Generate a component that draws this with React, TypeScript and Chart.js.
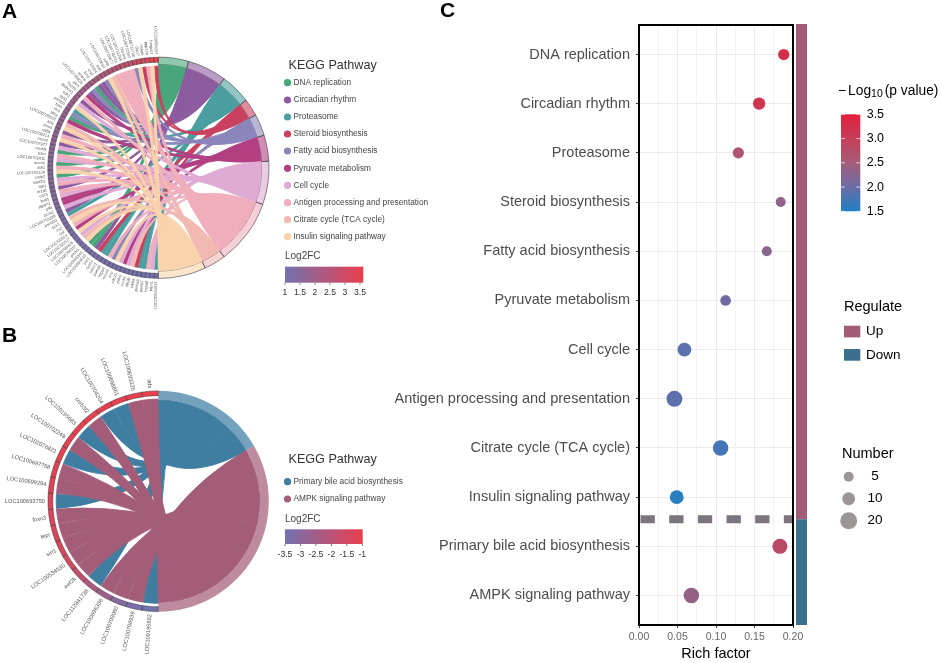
import React, { useEffect, useRef } from "react";
import { Chart, registerables } from "chart.js";

Chart.register(...registerables);

const FONT = '"Liberation Sans", Arial, sans-serif';

// ---------- Panel A ----------
const pathwaysA = ["DNA replication", "Circadian rhythm", "Proteasome", "Steroid biosynthesis", "Fatty acid biosynthesis", "Pyruvate metabolism", "Cell cycle", "Antigen processing and presentation", "Citrate cycle (TCA cycle)", "Insulin signaling pathway"];
const pathwayColorsA = ["#48a57a", "#8c5a9e", "#4a9e9f", "#c9405f", "#8a85bb", "#b23f82", "#dfaad4", "#f0aebc", "#f2b8b2", "#f8d3ac"];
const pathwayCountsA = [7, 9, 7, 4, 5, 6, 10, 15, 5, 11];
const genesA = ["LOC100534521", "ptpn1", "hspa8", "psmb7", "psma3", "sqlea", "idh3b", "ccnb1", "pdhb", "cdc20", "insr", "elovl6", "hspa4", "psmd2", "psmc1", "cyp51", "per1", "LOC100693210", "LOC100693344", "pik3r1", "LOC100700112", "LOC100700318", "LOC100700527", "LOC100700913", "ctsl", "irs2", "pck1", "psmd11", "LOC100701288", "ccna2", "pfkl", "pgam1", "bub1", "cd74", "nr1d1", "tap1", "mad2l1", "pole2", "LOC100702128", "ifi30", "mcm6", "LOC100702411", "b2m", "mcm5", "LOC100707977", "mcm2", "LOC100708214", "cd8a", "rbm3", "acly", "LOC100709163", "ldha", "rfc4", "fasn", "psmb5", "gys1", "cdk1", "bhlhe41", "hsp70", "pkm", "LOC100709826", "acaca", "fen1", "cry2", "LOC100710224", "scd", "LOC100710533", "sdhb", "LOC100710877", "LOC100711031", "LOC100711264", "hla-dra", "LOC100711592", "LOC100711748", "dhcr7", "hspa5", "ppp1cb", "hmgcs1", "LOC100690207"];
const geneFCA = [1.0, 1.01, 1.02, 1.03, 1.04, 1.05, 1.06, 1.07, 1.08, 1.09, 1.1, 1.11, 1.12, 1.13, 1.14, 1.15, 1.16, 1.17, 1.18, 1.19, 1.2, 1.22, 1.23, 1.25, 1.26, 1.27, 1.29, 1.3, 1.32, 1.33, 1.35, 1.37, 1.38, 1.4, 1.42, 1.44, 1.46, 1.48, 1.5, 1.52, 1.54, 1.56, 1.58, 1.6, 1.62, 1.64, 1.66, 1.68, 1.7, 1.72, 1.75, 1.78, 1.8, 1.83, 1.86, 1.89, 1.92, 1.95, 1.98, 2.02, 2.05, 2.1, 2.15, 2.2, 2.25, 2.3, 2.36, 2.42, 2.48, 2.55, 2.62, 2.7, 2.8, 2.9, 3.0, 3.1, 3.25, 3.4, 3.5];
// pathway index of each gene, in ring order (clockwise, starting at six o'clock)
const genePathA = [2, 6, 7, 2, 2, 3, 8, 6, 5, 6, 9, 4, 7, 2, 2, 3, 1, 0, 0, 9, 8, 6, 9, 5, 7, 9, 8, 2, 1, 6, 5, 5, 6, 7, 1, 7, 6, 0, 9, 7, 0, 6, 7, 0, 6, 1, 9, 7, 1, 9, 8, 5, 0, 4, 2, 9, 6, 1, 7, 5, 1, 4, 0, 1, 1, 4, 9, 8, 7, 7, 7, 7, 7, 4, 9, 3, 7, 9, 3];
const fcTicksA = [1, 1.5, 2, 2.5, 3, 3.5];

// ---------- Panel B ----------
const pathwaysB = ["Primary bile acid biosynthesis", "AMPK signaling pathway"];
const pathwayColorsB = ["#3f7da1", "#a35d78"];
const pathwayCountsB = [7, 14];
const genesB = ["LOC109195682", "LOC100706939", "LOC100708080", "LOC100696336", "LOC112841736", "eef2k", "LOC100534530", "sirt1", "lepr", "foxo3", "LOC100693750", "LOC100699294", "LOC100697758", "LOC102076821", "LOC100702249", "LOC109195683", "creb3l2", "LOC100704204", "LOC100698861", "LOC100693325", "ads"];
const geneFCB = [-3.5, -3.4, -3.1, -2.6, -2.3, -1.8, -1.5, -1.4, -1.3, -1.3, -1.25, -1.2, -1.2, -1.15, -1.15, -1.1, -1.1, -1.05, -1.05, -1.02, -1];
const genePathB = [0, 1, 1, 1, 0, 1, 1, 1, 1, 1, 0, 1, 1, 0, 1, 0, 1, 0, 0, 1, 1];
const fcTicksB = [-3.5, -3, -2.5, -2, -1.5, -1];

// ---------- Panel C ----------
const categories = ["DNA replication", "Circadian rhythm", "Proteasome", "Steroid biosynthesis", "Fatty acid biosynthesis", "Pyruvate metabolism", "Cell cycle", "Antigen processing and presentation", "Citrate cycle (TCA cycle)", "Insulin signaling pathway", "Primary bile acid biosynthesis", "AMPK signaling pathway"];
const richFactor = [0.188, 0.156, 0.129, 0.184, 0.166, 0.1125, 0.059, 0.046, 0.106, 0.049, 0.183, 0.068];
const geneNumber = [7, 9, 7, 5, 5, 6, 12, 17, 16, 12, 15, 16];
const minusLogP = [3.25, 3.15, 2.6, 2.3, 2.25, 2.05, 1.9, 1.9, 1.75, 1.55, 2.8, 2.35];
const pTicks = [1.5, 2, 2.5, 3, 3.5];
const numberLegend = [5, 10, 20];
const regulateNames = ["Up", "Down"];
const regulateColors = ["#a25c78", "#3a708e"];
const xTickValues = [0, 0.05, 0.1, 0.15, 0.2];
const SPLIT = 10.45;

type RGB = [number, number, number];
const hex = (h: string): RGB => [parseInt(h.slice(1, 3), 16), parseInt(h.slice(3, 5), 16), parseInt(h.slice(5, 7), 16)];
const mix = (a: string, b: string, t: number) => {
  const A = hex(a), B = hex(b);
  return `rgb(${A.map((v, i) => Math.round(v + (B[i] - v) * t)).join(",")})`;
};
const alpha = (c: string, a: number) => `rgba(${hex(c).join(",")},${a})`;

const FC_LOW = "#7272b0", FC_HIGH = "#ea3f4d";
const pStops: [number, string][] = [[1.5, "#1f80c4"], [2, "#6a6ca6"], [2.5, "#a65c78"], [3.5, "#e3203a"]];
const pColor = (v: number) => {
  for (let i = 1; i < pStops.length; i++) {
    if (v <= pStops[i][0]) {
      const [a, ca] = pStops[i - 1], [b, cb] = pStops[i];
      return mix(ca, cb, (v - a) / (b - a));
    }
  }
  return pStops[pStops.length - 1][1];
};
const bubbleRadius = (n: number) => 1.5 + 1.56 * Math.sqrt(n);

const text = (ctx: CanvasRenderingContext2D, s: string, x: number, y: number, font: string, color: string, align: CanvasTextAlign = "left") => {
  ctx.font = `${font} ${FONT}`;
  ctx.fillStyle = color;
  ctx.textAlign = align;
  ctx.textBaseline = "middle";
  ctx.fillText(s, x, y);
};

type ChordCfg = {
  letter: string; letterY: number;
  names: string[]; colors: string[]; counts: number[];
  genes: string[]; fc: number[]; paths: number[];
  fcMin: number; fcMax: number; ticks: number[];
  geneInner: number; geneOuter: number; pathInner: number; ribbonR: number;
  labelFont: number; border: string; pathBorder: number; ringAlpha: number;
  titleY: number; itemYs: number[]; fcTitleY: number; barTop: number; barBottom: number; barRight: number; tickRight: number; tickLabelY: number;
};

const makeChord = (canvas: HTMLCanvasElement, cfg: ChordCfg, cx: number, cy: number, R: number) => {
  const geneColor = (v: number) => mix(FC_LOW, FC_HIGH, (v - cfg.fcMin) / (cfg.fcMax - cfg.fcMin));
  const nP = cfg.counts.length;
  const plugin = {
    id: "chord" + cfg.letter,
    afterDatasetsUpdate(chart: any) {
      chart.getDatasetMeta(0).data.forEach((arc: any, i: number) => {
        const isPath = i < nP;
        arc.innerRadius = isPath ? cfg.pathInner : cfg.geneInner;
        arc.outerRadius = isPath ? R : cfg.geneOuter;
      });
    },
    afterDatasetsDraw(chart: any) {
      const ctx: CanvasRenderingContext2D = chart.ctx;
      const arcs = chart.getDatasetMeta(0).data;
      const { x: ox, y: oy } = arcs[0];
      ctx.save();
      // ribbons, one pathway after another
      cfg.colors.forEach((col, p) => {
        const members = cfg.paths.map((q, g) => (q === p ? g : -1)).filter((g) => g >= 0);
        const pa = arcs[p];
        const step = (pa.endAngle - pa.startAngle) / members.length;
        ctx.fillStyle = col;
        ctx.strokeStyle = col;
        ctx.lineWidth = 0.9;
        ctx.lineJoin = "round";
        members.forEach((g, k) => {
          const ga = arcs[nP + g];
          const b1 = pa.startAngle + k * step, b2 = b1 + step;
          ctx.beginPath();
          ctx.arc(ox, oy, cfg.ribbonR - 0.4, ga.startAngle + 0.003, ga.endAngle - 0.003);
          ctx.quadraticCurveTo(ox, oy, ox + (cfg.pathInner - 0.4) * Math.cos(b1), oy + (cfg.pathInner - 0.4) * Math.sin(b1));
          ctx.arc(ox, oy, cfg.pathInner - 0.4, b1, b2);
          ctx.quadraticCurveTo(ox, oy, ox + (cfg.ribbonR - 0.4) * Math.cos(ga.startAngle + 0.003), oy + (cfg.ribbonR - 0.4) * Math.sin(ga.startAngle + 0.003));
          ctx.closePath();
          ctx.fill();
          ctx.stroke();
        });
      });
      // gene labels, radial
      cfg.genes.forEach((name, g) => {
        const ga = arcs[nP + g];
        const mid = (ga.startAngle + ga.endAngle) / 2;
        ctx.save();
        ctx.translate(ox + (cfg.geneOuter + 3) * Math.cos(mid), oy + (cfg.geneOuter + 3) * Math.sin(mid));
        ctx.rotate(mid - Math.PI);
        text(ctx, name, 0, 0, `${cfg.labelFont}px`, "#555555", "right");
        ctx.restore();
      });
      // panel letter
      text(ctx, cfg.letter, 2, cfg.letterY, "bold 21px", "#000000");
      // legend
      text(ctx, "KEGG Pathway", 288.5, cfg.titleY, "12.6px", "#333333");
      cfg.names.forEach((name, i) => {
        ctx.fillStyle = cfg.colors[i];
        ctx.beginPath();
        ctx.arc(287.5, cfg.itemYs[i], 3.6, 0, Math.PI * 2);
        ctx.fill();
        text(ctx, name, 293.5, cfg.itemYs[i], "8.3px", "#444444");
      });
      text(ctx, "Log2FC", 285, cfg.fcTitleY, "10px", "#444444");
      const grad = ctx.createLinearGradient(285, 0, cfg.barRight, 0);
      grad.addColorStop(0, FC_LOW);
      grad.addColorStop(1, FC_HIGH);
      ctx.fillStyle = grad;
      ctx.fillRect(285, cfg.barTop, cfg.barRight - 285, cfg.barBottom - cfg.barTop);
      cfg.ticks.forEach((v) => {
        const x = 285 + ((v - cfg.fcMin) / (cfg.fcMax - cfg.fcMin)) * (cfg.tickRight - 285);
        ctx.fillStyle = "#555555";
        ctx.fillRect(x - 0.4, cfg.barBottom, 0.8, 2);
        text(ctx, String(v), x, cfg.tickLabelY, "8.6px", "#333333", "center");
      });
      ctx.restore();
    },
  };
  return new Chart(canvas, {
    type: "doughnut",
    data: {
      labels: [...cfg.names, ...cfg.genes],
      datasets: [{
        data: [...cfg.counts, ...cfg.genes.map(() => 1)],
        backgroundColor: [...cfg.colors.map((c) => alpha(c, cfg.ringAlpha)), ...cfg.fc.map(geneColor)],
        borderColor: cfg.border,
        borderWidth: (c: any) => (c.dataIndex < nP ? cfg.pathBorder : 0.5),
      }],
    },
    options: {
      responsive: false,
      animation: false,
      cutout: "90%",
      layout: { padding: { left: cx - R, right: 941 - cx - R, top: cy - R, bottom: 663 - cy - R } },
      plugins: { legend: { display: false }, tooltip: { enabled: false } },
    },
    plugins: [plugin],
  } as any);
};

export default function App() {
  const aRef = useRef<HTMLCanvasElement>(null);
  const bRef = useRef<HTMLCanvasElement>(null);
  const cRef = useRef<HTMLCanvasElement>(null);

  useEffect(() => {
    const a = makeChord(aRef.current!, {
      letter: "A", letterY: 12,
      names: pathwaysA, colors: pathwayColorsA, counts: pathwayCountsA,
      genes: genesA, fc: geneFCA, paths: genePathA,
      fcMin: 1, fcMax: 3.5, ticks: fcTicksA,
      geneInner: 105.5, geneOuter: 110.5, pathInner: 103.3, ribbonR: 102,
      labelFont: 4, border: "#3a3a3a", pathBorder: 0.6, ringAlpha: 0.6,
      titleY: 65.5, itemYs: [82.7, 100, 117, 134, 151, 168.3, 185.3, 202.7, 219.7, 236.7],
      fcTitleY: 256.5, barTop: 266.7, barBottom: 282.7, barRight: 363.3, tickRight: 360, tickLabelY: 292.5,
    }, 158.3, 167.8, 110.7);

    const b = makeChord(bRef.current!, {
      letter: "B", letterY: 336,
      names: pathwaysB, colors: pathwayColorsB, counts: pathwayCountsB,
      genes: genesB, fc: geneFCB, paths: genePathB,
      fcMin: -3.5, fcMax: -1, ticks: fcTicksB,
      geneInner: 105.5, geneOuter: 110.3, pathInner: 101.7, ribbonR: 102.5,
      labelFont: 5.7, border: "rgba(40,40,40,0.9)", pathBorder: 0, ringAlpha: 0.72,
      titleY: 460, itemYs: [481.7, 499], fcTitleY: 519.5, barTop: 529.3, barBottom: 544, barRight: 362.7, tickRight: 362.3, tickLabelY: 555,
    }, 158.3, 501.2, 110.5);

    const decorate = {
      id: "decorate",
      afterDatasetsDraw(chart: any) {
        const ctx: CanvasRenderingContext2D = chart.ctx;
        const { left, right, top, bottom } = chart.chartArea;
        const y = chart.scales.y;
        ctx.save();
        ctx.strokeStyle = "#000000";
        ctx.lineWidth = 2;
        ctx.strokeRect(left, top, right - left, bottom - top);
        // side strip: up / down
        const split = y.getPixelForValue(SPLIT);
        ctx.fillStyle = regulateColors[0];
        ctx.fillRect(796, top - 1, 11, split - top + 1);
        ctx.fillStyle = regulateColors[1];
        ctx.fillRect(796, split, 11, bottom - split);
        text(ctx, "C", 440, 11, "bold 21px", "#000000");
        // colour bar title
        let tx = 838;
        const piece = (s: string, font: string, yy: number) => {
          text(ctx, s, tx, yy, font, "#000000");
          tx += ctx.measureText(s).width;
        };
        piece("\u2212", "13.8px", 91);
        tx += 2;
        piece("Log", "13.8px", 91);
        piece("10", "10.5px", 94.5);
        tx += 2;
        piece("(p value)", "13.8px", 91);
        // colour bar
        const barT = 114.3, barB = 211.3;
        const pY = (v: number) => barB - ((v - 1.5) / 2) * (barB - barT);
        const g = ctx.createLinearGradient(0, barB, 0, barT);
        pStops.forEach(([v, c]) => g.addColorStop((v - 1.5) / 2, c));
        ctx.fillStyle = g;
        ctx.fillRect(841, barT, 19.3, barB - barT);
        pTicks.forEach((v) => {
          const py = pY(v);
          ctx.fillStyle = "rgba(255,255,255,0.85)";
          ctx.fillRect(841, py - 0.4, 4, 0.8);
          ctx.fillRect(856.3, py - 0.4, 4, 0.8);
          text(ctx, v.toFixed(1), 866.7, py, "12.5px", "#000000");
        });
        // regulate legend
        text(ctx, "Regulate", 844, 307, "14.5px", "#000000");
        regulateNames.forEach((n, i) => {
          const sy = i === 0 ? 325.7 : 349;
          ctx.fillStyle = regulateColors[i];
          ctx.fillRect(844, sy, 16.3, 11.7);
          text(ctx, n, 866, sy + 6, "13.5px", "#000000");
        });
        // number legend
        text(ctx, "Number", 842, 453.7, "14.5px", "#000000");
        numberLegend.forEach((n, i) => {
          const ly = 476.7 + i * 22;
          ctx.fillStyle = "#9b9696";
          ctx.beginPath();
          ctx.arc(848.7, ly, bubbleRadius(n), 0, Math.PI * 2);
          ctx.fill();
          text(ctx, String(n), 875, ly, "13.5px", "#000000", "center");
        });
        ctx.restore();
      },
    };

    const c = new Chart(cRef.current!, {
      type: "bubble",
      data: {
        datasets: [
          {
            type: "bubble",
            data: categories.map((_, i) => ({ x: richFactor[i], y: i + 1, r: bubbleRadius(geneNumber[i]) })),
            backgroundColor: minusLogP.map(pColor),
            borderWidth: 0,
            order: 2,
          },
          {
            type: "line",
            data: [{ x: 0.002, y: SPLIT }, { x: 0.2, y: SPLIT }],
            borderColor: "#7c7481",
            borderWidth: 8,
            borderDash: [14.33, 14.33],
            pointRadius: 0,
            order: 1,
          },
        ],
      },
      options: {
        responsive: false,
        animation: false,
        layout: { padding: { left: 380, right: 148, top: 25, bottom: 0 } },
        plugins: { legend: { display: false }, tooltip: { enabled: false } },
        scales: {
          x: {
            type: "linear",
            min: 0,
            max: 0.2,
            border: { display: false },
            afterFit: (s: any) => { s.height = 38; },
            ticks: {
              stepSize: 0.025,
              autoSkip: false,
              maxRotation: 0,
              padding: 3,
              color: "#666666",
              font: { family: FONT, size: 10.5 },
              callback: (v: any) => (xTickValues.some((t) => Math.abs(t - v) < 1e-6) ? Number(v).toFixed(2) : ""),
            },
            grid: {
              tickLength: 3,
              lineWidth: 1,
              color: (ctx: any) => (ctx.index % 2 ? "#f3f3f3" : "#ebebeb"),
              tickColor: (ctx: any) => (ctx.index % 2 ? "rgba(0,0,0,0)" : "#333333"),
            },
            title: { display: true, text: "Rich factor", color: "#000000", padding: { top: 7, bottom: 0 }, font: { family: FONT, size: 14.5 } },
          },
          y: {
            type: "linear",
            reverse: true,
            min: 0.4,
            max: 12.6,
            border: { display: false },
            afterFit: (s: any) => { s.width = 259; },
            afterBuildTicks: (s: any) => { s.ticks = categories.map((_, i) => ({ value: i + 1 })); },
            ticks: {
              autoSkip: false,
              padding: 6,
              color: "#4d4d4d",
              font: { family: FONT, size: 14.5 },
              callback: (v: any) => categories[Number(v) - 1],
            },
            grid: { tickLength: 3, lineWidth: 1, color: "#ebebeb", tickColor: "#333333" },
          },
        },
      },
      plugins: [decorate],
    } as any);

    return () => { a.destroy(); b.destroy(); c.destroy(); };
  }, []);

  const style: React.CSSProperties = { position: "absolute", left: 0, top: 0, width: 941, height: 663 };
  return (
    <div style={{ position: "fixed", left: 0, top: 0, width: 941, height: 663, background: "#ffffff" }}>
      <canvas ref={aRef} width={941} height={663} style={style} />
      <canvas ref={bRef} width={941} height={663} style={style} />
      <canvas ref={cRef} width={941} height={663} style={style} />
    </div>
  );
}
